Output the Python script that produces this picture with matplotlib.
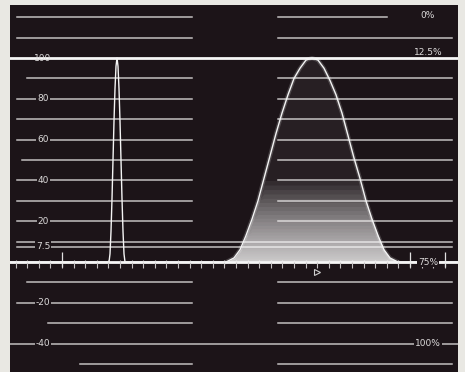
import matplotlib
matplotlib.use('Agg')
import matplotlib.pyplot as plt
import numpy as np

# Trace readings: x in screen px, level in IRE
pulse2t_x = list(range(109, 126))
pulse2t_y = [0, 4, 15, 31, 50, 69, 85, 96, 100, 96, 85, 69, 50, 31, 15, 4, 0]

pulse20t_x = [226, 228, 234, 240, 246, 252, 258, 264, 270, 276, 282, 288, 294, 300, 306,
              312, 318, 324, 330, 336, 342, 348, 354, 360, 366, 372, 378, 384, 390, 396, 398]
pulse20t_y = [0, 0.5, 2, 6, 13, 21, 30, 41, 52, 63, 73, 82, 90, 95, 99,
              100, 99, 95, 89, 82, 73, 62, 51, 41, 30, 21, 13, 6, 2, 0.5, 0]

# Graticule
split_levels = [120, 110, 90, 80, 70, 60, 50, 40, 30, 20, -10, -20, -30, -50]
full_levels = [10, 7.5, -40]
bold_levels = [100, 0]
left_labels = ['100', '80', '60', '40', '20', '7.5', '-20', '-40']
left_label_levels = [100, 80, 60, 40, 20, 7.5, -20, -40]
right_labels = ['0%', '12.5%', '75%', '100%']
right_label_levels = [121, 102.5, 0, -40]

BG = '#1c1418'
GRID = '#c2bfc0'
TXT = '#dcdada'

fig = plt.figure(figsize=(4.65, 3.72), dpi=100)
fig.patch.set_facecolor('#e9e8e3')
ax = fig.add_axes([10/465, 0, 448/465, 367/372])
ax.set_facecolor(BG)
for s in ax.spines.values():
    s.set_visible(False)
ax.set_xticks([])
ax.set_yticks([])
ax.set_xlim(10, 458)
ax.set_ylim(-53.9, 126.0)

# graticule lines
left_start = {90: 27, 50: 22, -10: 27, -30: 48, -50: 80}
for lv in split_levels:
    ax.plot([left_start.get(lv, 17), 192], [lv, lv], color=GRID, lw=1.1, zorder=1)
    r_end = 387 if lv == 120 else 452
    ax.plot([278, r_end], [lv, lv], color=GRID, lw=1.1, zorder=1)
for lv in full_levels:
    ax.plot([17, 452] if lv != -40 else [10, 458], [lv, lv], color=GRID, lw=1.1, zorder=1)
for lv in bold_levels:
    ax.plot([10, 458], [lv, lv], color='#f6f6f6', lw=2.0, zorder=2)

# baseline ticks
minor = np.arange(15.6, 452, 11.6)
ax.vlines(minor, -2.8, 1.2, color=GRID, lw=0.8, zorder=2)
ax.vlines([62, 410, 445], -2.5, 5, color='#e0e0e0', lw=0.9, zorder=2)

# modulated pulse fill, brighter toward the base
bx = np.array(pulse20t_x, dtype=float)
by = np.array(pulse20t_y, dtype=float)
ax.fill_between(bx, 0, by, color='white', alpha=0.05, lw=0, zorder=3)
for k in range(1, 29):
    h = 40 * (k / 28) ** 1.6
    ax.fill_between(bx, 0, np.minimum(by, h), color='white', alpha=0.06, lw=0, zorder=3)

# trace with a faint glow
trace_x = [10] + pulse2t_x + pulse20t_x + [458]
trace_y = [0] + pulse2t_y + pulse20t_y + [0]
ax.plot(pulse20t_x, pulse20t_y, color='white', lw=3.0, alpha=0.18, zorder=4)
ax.plot(trace_x, trace_y, color='#f4f4f4', lw=1.0, zorder=4)

# labels
for t, lv in zip(left_labels, left_label_levels):
    bb = None if lv == 100 else dict(facecolor=BG, edgecolor='none', pad=0.6)
    ax.text(43, lv, t, color=TXT, fontsize=6.5, ha='center', va='center', bbox=bb, zorder=5)
for t, lv in zip(right_labels, right_label_levels):
    bb = None if lv > 100 else dict(facecolor=BG, edgecolor='none', pad=0.6)
    ax.text(428, lv, t, color=TXT, fontsize=6.5, ha='center', va='center', bbox=bb, zorder=5)

ax.plot(317, -5, marker='>', mfc='none', mec='#cfcfcf', ms=4, mew=0.8, zorder=5)

fig.savefig('out.png', dpi=100, facecolor=fig.get_facecolor())
